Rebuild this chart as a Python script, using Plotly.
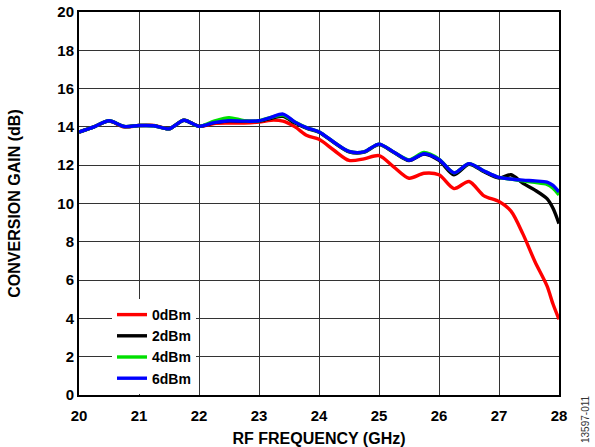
import plotly.graph_objects as go

freq = [20.0, 20.25, 20.5, 20.75, 21.0, 21.25, 21.5, 21.75, 22.0, 22.25, 22.5, 22.75,
        23.0, 23.2, 23.4, 23.6, 23.8, 24.0, 24.25, 24.5, 24.75, 25.0, 25.25, 25.5,
        25.75, 26.0, 26.25, 26.5, 26.75, 27.0, 27.2, 27.4, 27.6, 27.8, 27.9, 28.0]

gain_0dbm = [13.73, 14.0, 14.3, 14.0, 14.07, 14.08, 13.9, 14.35, 14.03, 14.18, 14.2, 14.2,
             14.25, 14.35, 14.3, 14.0, 13.55, 13.35, 12.78, 12.25, 12.33, 12.5, 11.9, 11.32,
             11.58, 11.5, 10.78, 11.15, 10.4, 10.1, 9.6, 8.4, 6.96, 5.7, 4.75, 3.95]
gain_2dbm = [13.73, 14.0, 14.32, 14.02, 14.07, 14.06, 13.9, 14.35, 14.03, 14.22, 14.32, 14.3,
             14.3, 14.45, 14.55, 14.2, 13.92, 13.72, 13.18, 12.7, 12.68, 13.08, 12.66, 12.24,
             12.58, 12.25, 11.5, 12.05, 11.66, 11.33, 11.5, 11.05, 10.7, 10.25, 9.75, 8.95]
gain_4dbm = [13.73, 14.0, 14.32, 14.02, 14.07, 14.06, 13.9, 14.35, 14.03, 14.3, 14.48, 14.33,
             14.32, 14.5, 14.62, 14.25, 13.95, 13.74, 13.2, 12.72, 12.7, 13.1, 12.68, 12.28,
             12.66, 12.32, 11.6, 12.08, 11.7, 11.36, 11.27, 11.18, 11.1, 11.0, 10.8, 10.45]
gain_6dbm = [13.73, 14.0, 14.32, 14.02, 14.07, 14.06, 13.9, 14.35, 14.03, 14.22, 14.32, 14.3,
             14.32, 14.5, 14.67, 14.25, 13.95, 13.74, 13.2, 12.72, 12.7, 13.1, 12.68, 12.26,
             12.6, 12.3, 11.6, 12.08, 11.7, 11.36, 11.28, 11.22, 11.18, 11.12, 10.95, 10.6]

series = [("0dBm", gain_0dbm, "#ff0000"),
          ("2dBm", gain_2dbm, "#000000"),
          ("4dBm", gain_4dbm, "#00e000"),
          ("6dBm", gain_6dbm, "#0000ff")]

x_ticks = [20, 21, 22, 23, 24, 25, 26, 27, 28]
y_ticks = [0, 2, 4, 6, 8, 10, 12, 14, 16, 18, 20]

FONT = "Liberation Sans, Arial, Helvetica, sans-serif"

W, H = 595, 447
ML, MR, MT, MB = 79, 36, 12, 52
PW, PH = W - ML - MR, H - MT - MB

fig = go.Figure()
for name, vals, col in series:
    fig.add_trace(go.Scatter(x=freq, y=vals, mode="lines", name=name,
                             line=dict(color=col, width=3.4, shape="spline", smoothing=0.8)))

axis_common = dict(showline=True, linecolor="#000000", linewidth=2, mirror=True,
                   showgrid=True, gridcolor="#333333", gridwidth=1.3, zeroline=False,
                   ticks="", tickfont=dict(family=FONT, size=15, color="#000", weight="bold"))

fig.update_xaxes(range=[20, 28], tickvals=x_ticks, ticktext=[str(t) for t in x_ticks],
                 ticklabelstandoff=6,
                 title=dict(text="RF FREQUENCY (GHz)", standoff=11,
                            font=dict(family=FONT, size=16, color="#000", weight="bold")),
                 **axis_common)
fig.update_yaxes(range=[0, 20], tickvals=y_ticks, ticktext=[str(t) for t in y_ticks],
                 title=dict(text="CONVERSION GAIN (dB)", standoff=33,
                            font=dict(family=FONT, size=16, color="#000", weight="bold")),
                 **axis_common)

fig.update_layout(
    width=W, height=H,
    margin=dict(l=ML, r=MR, t=MT, b=MB, autoexpand=False),
    plot_bgcolor="#ffffff", paper_bgcolor="#ffffff",
    legend=dict(x=(112 - ML) / PW, y=(MT + PH - 299) / PH, xanchor="left", yanchor="top",
                bgcolor="#ffffff", borderwidth=0,
                font=dict(family=FONT, size=14, color="#000", weight="bold"),
                tracegroupgap=0),
    annotations=[dict(text="13597-011", x=(585 - ML) / PW, y=(MT + PH - 419) / PH,
                      xref="paper", yref="paper", xanchor="center", yanchor="middle",
                      showarrow=False, textangle=-90,
                      font=dict(family=FONT, size=10, color="#333"))],
)

fig.write_html("out.html",
               config={"displayModeBar": False},
               post_script="document.body.style.margin='0';document.body.style.overflow='hidden';")
